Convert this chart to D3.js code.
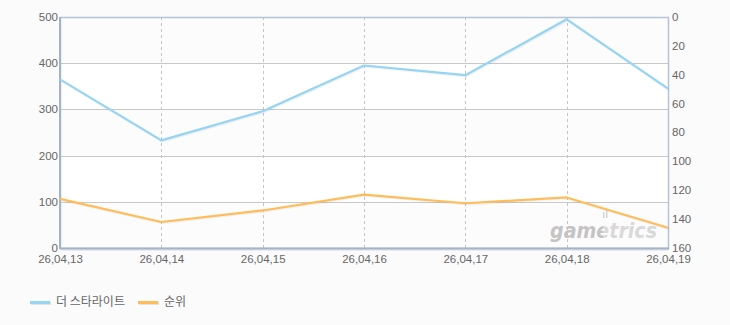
<!DOCTYPE html>
<html><head><meta charset="utf-8">
<script src="https://cdn.jsdelivr.net/npm/d3@7"></script>
<style>
html,body{margin:0;padding:0;background:#fbfbfb;}
svg{display:block;font-family:"Liberation Sans","Noto Sans CJK KR",sans-serif;}
</style></head><body>
<svg id="c" width="730" height="325"></svg>
<script>
const categories = ["26,04,13","26,04,14","26,04,15","26,04,16","26,04,17","26,04,18","26,04,19"];
const seriesBlue = [365, 233, 296, 395, 374, 495, 345];
const seriesRank = [126, 142, 134, 123, 129, 125, 146];
const leftTicks = [0,100,200,300,400,500];
const rightTicks = [0,20,40,60,80,100,120,140,160];
const seriesNames = ["더 스타라이트","순위"];

const svg = d3.select("#c");
const L=60, R=668, T=17, B=248;
const x = d3.scalePoint().domain(categories).range([L,R]);
const yL = d3.scaleLinear().domain([0,500]).range([B,T]);
const yR = d3.scaleLinear().domain([0,160]).range([T,B]);

// plot background bands
svg.append("rect").attr("x",L).attr("y",T).attr("width",R-L).attr("height",B-T).attr("fill","#fcfcfc");
[[100,200],[300,400]].forEach(([a,b])=>{
  svg.append("rect").attr("x",L).attr("y",yL(b)).attr("width",R-L).attr("height",yL(a)-yL(b)).attr("fill","#ffffff");
});

// horizontal grid
svg.append("g").selectAll("line").data(leftTicks.filter(d=>d>0&&d<500)).join("line")
  .attr("x1",L).attr("x2",R).attr("y1",d=>Math.round(yL(d))+0.5).attr("y2",d=>Math.round(yL(d))+0.5)
  .attr("stroke","#c8c8c8").attr("stroke-width",1);
// vertical dashed grid
svg.append("g").selectAll("line").data(categories.slice(1,-1)).join("line")
  .attr("x1",d=>Math.round(x(d))+0.5).attr("x2",d=>Math.round(x(d))+0.5).attr("y1",T).attr("y2",B)
  .attr("stroke","#c4c4c4").attr("stroke-dasharray","3,3").attr("stroke-width",1);

// watermark (single text, two-tone via gradient)
const defs = svg.append("defs");
const grad = defs.append("linearGradient").attr("id","wmg").attr("gradientUnits","userSpaceOnUse")
  .attr("x1",550).attr("x2",658).attr("y1",0).attr("y2",0);
grad.append("stop").attr("offset","0.49").attr("stop-color","#c4c4c4");
grad.append("stop").attr("offset","0.49").attr("stop-color","#d9d9d9");
svg.append("text").attr("x",550).attr("y",238).attr("font-size",22).attr("font-weight","bold")
  .attr("font-style","italic").attr("font-family","'DejaVu Sans', sans-serif")
  .attr("textLength",107).attr("lengthAdjust","spacingAndGlyphs").attr("fill","url(#wmg)").text("gametrics");
svg.append("rect").attr("x",603).attr("y",212).attr("width",1.5).attr("height",6).attr("fill","#d4d4d4");
svg.append("rect").attr("x",606).attr("y",210).attr("width",1.5).attr("height",8).attr("fill","#d4d4d4");

// frame
svg.append("rect").attr("x",L+0.5).attr("y",T+0.5).attr("width",R-L).attr("height",B-T)
  .attr("fill","none").attr("stroke","#b4c4d6").attr("stroke-width",1.5);
svg.append("line").attr("x1",L+2).attr("x2",R+1).attr("y1",B+2).attr("y2",B+2).attr("stroke","#e4e4e4").attr("stroke-width",1.5);
svg.append("line").attr("x1",L).attr("x2",L).attr("y1",T).attr("y2",B+1).attr("stroke","#a4b4c8").attr("stroke-width",2);
svg.append("line").attr("x1",L).attr("x2",R+1).attr("y1",B+0.5).attr("y2",B+0.5).attr("stroke","#a4b4c8").attr("stroke-width",2);

// axes
const axL = svg.append("g").attr("transform",`translate(${L},0)`)
  .call(d3.axisLeft(yL).tickValues(leftTicks).tickSize(0).tickPadding(2));
const axR = svg.append("g").attr("transform",`translate(${R+1},0)`)
  .call(d3.axisRight(yR).tickValues(rightTicks).tickSize(0).tickPadding(3));
const axB = svg.append("g").attr("transform",`translate(0,${B})`)
  .call(d3.axisBottom(x).tickSize(0).tickPadding(0));
[axL,axR,axB].forEach(a=>{
  a.select(".domain").remove();
  a.selectAll("text").attr("fill","#666").attr("font-size",11.5).attr("font-family","'Liberation Sans',sans-serif");
});
axL.selectAll("text").attr("dy","0.3em");
axR.selectAll("text").attr("dy","0.3em");
axB.selectAll("text").attr("y",15).attr("dy",0);

// lines
const lineB = d3.line().x((d,i)=>x(categories[i])).y(d=>yL(d));
const lineR = d3.line().x((d,i)=>x(categories[i])).y(d=>yR(d));
const colors = ["#95d4f3","#ffbd5a"];
[[seriesBlue,lineB,colors[0]],[seriesRank,lineR,colors[1]]].forEach(([data,gen,col])=>{
  svg.append("path").attr("d",gen(data)).attr("fill","none").attr("stroke","#000").attr("stroke-opacity",0.05)
    .attr("stroke-width",2.5).attr("transform","translate(1,1)");
  svg.append("path").attr("d",gen(data)).attr("fill","none").attr("stroke",col).attr("stroke-width",2.2)
    .attr("stroke-linejoin","round");
});

// legend
const leg = svg.append("g");
const legX = [30,138];
seriesNames.forEach((n,i)=>{
  leg.append("rect").attr("x",legX[i]+1).attr("y",302).attr("width",20).attr("height",3).attr("fill","#e2e2e2");
  leg.append("rect").attr("x",legX[i]).attr("y",301).attr("width",20).attr("height",3).attr("fill",colors[i]);
  leg.append("text").attr("x",legX[i]+26).attr("y",306).attr("font-size",12).attr("fill","#666")
    .attr("font-family","'Noto Sans CJK KR',sans-serif").text(n);
});
</script>
</body></html>
